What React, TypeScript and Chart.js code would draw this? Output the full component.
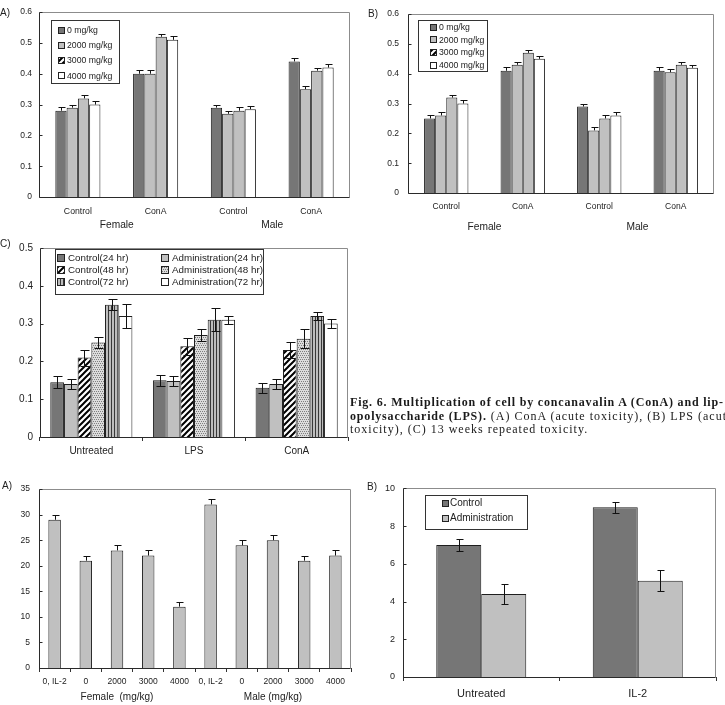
import React, { useEffect, useRef } from 'react';
import { Chart, registerables } from 'chart.js';

Chart.register(...registerables);

const SANS = '"Liberation Sans", Arial, Helvetica, sans-serif';
const SERIF = '"Liberation Serif", "Times New Roman", "DejaVu Serif", serif';

const DARK = '#767676';
const LIGHT = '#c0c0c0';
const WHITE = '#ffffff';
const EDGE = '#1e1e1e';
const TEXT = '#222222';

// ---------- Fig. 6A: ConA stimulation, acute toxicity ----------
const stimGroups = ['Control', 'ConA', 'Control', 'ConA'];
const sexGroups = ['Female', 'Male'];
const doseNames = ['0 mg/kg', '2000 mg/kg', '3000 mg/kg', '4000 mg/kg'];
const conaDose0 = [0.28, 0.40, 0.29, 0.44];
const conaDose2000 = [0.29, 0.40, 0.27, 0.35];
const conaDose3000 = [0.32, 0.52, 0.28, 0.41];
const conaDose4000 = [0.30, 0.51, 0.285, 0.42];
const conaErr0 = [0.011, 0.012, 0.008, 0.01];
const conaErr2000 = [0.008, 0.012, 0.009, 0.01];
const conaErr3000 = [0.011, 0.01, 0.011, 0.01];
const conaErr4000 = [0.012, 0.011, 0.01, 0.012];

// ---------- Fig. 6B: LPS stimulation, acute toxicity ----------
const lpsDose0 = [0.25, 0.41, 0.29, 0.41];
const lpsDose2000 = [0.26, 0.43, 0.21, 0.405];
const lpsDose3000 = [0.32, 0.47, 0.25, 0.43];
const lpsDose4000 = [0.30, 0.45, 0.26, 0.42];
const lpsErr0 = [0.01, 0.011, 0.01, 0.011];
const lpsErr2000 = [0.011, 0.011, 0.01, 0.011];
const lpsErr3000 = [0.01, 0.011, 0.01, 0.011];
const lpsErr4000 = [0.011, 0.01, 0.011, 0.01];

// ---------- Fig. 6C: 13 weeks repeated toxicity ----------
const repeatGroups = ['Untreated', 'LPS', 'ConA'];
const timeNames = [
  'Control(24 hr)', 'Administration(24 hr)',
  'Control(48 hr)', 'Administration(48 hr)',
  'Control(72 hr)', 'Administration(72 hr)',
];
const ctl24 = [0.145, 0.15, 0.13];
const adm24 = [0.14, 0.148, 0.14];
const ctl48 = [0.21, 0.24, 0.23];
const adm48 = [0.25, 0.27, 0.26];
const ctl72 = [0.35, 0.31, 0.32];
const adm72 = [0.32, 0.31, 0.30];
const ctl24Err = [0.016, 0.014, 0.013];
const adm24Err = [0.014, 0.014, 0.014];
const ctl48Err = [0.021, 0.023, 0.022];
const adm48Err = [0.015, 0.015, 0.025];
const ctl72Err = [0.014, 0.03, 0.011];
const adm72Err = [0.032, 0.011, 0.012];

// ---------- Lower A: per dose, female and male ----------
const doseTicks = ['0, IL-2', '0', '2000', '3000', '4000', '0, IL-2', '0', '2000', '3000', '4000'];
const doseSexGroups = ['Female  (mg/kg)', 'Male (mg/kg)'];
const doseActivity = [29, 21, 23, 22, 12, 32, 24, 25, 21, 22];
const doseActivityErr = [1, 1, 1, 1, 1, 1, 1, 1, 1, 1];

// ---------- Lower B: untreated vs IL-2 ----------
const il2Groups = ['Untreated', 'IL-2'];
const il2Names = ['Control', 'Administration'];
const il2Control = [7.0, 9.0];
const il2Admin = [4.4, 5.1];
const il2ControlErr = [0.33, 0.3];
const il2AdminErr = [0.53, 0.55];

// ---------- fill patterns ----------
function tile(w: number, h: number, paint: (g: CanvasRenderingContext2D) => void): CanvasPattern {
  const c = document.createElement('canvas');
  c.width = w;
  c.height = h;
  const g = c.getContext('2d')!;
  paint(g);
  return g.createPattern(c, 'repeat')!;
}

function diagonalHatch() {
  return tile(6, 6, (g) => {
    g.fillStyle = '#ffffff';
    g.fillRect(0, 0, 6, 6);
    g.strokeStyle = '#000000';
    g.lineWidth = 2;
    g.beginPath();
    g.moveTo(-1, 7); g.lineTo(7, -1);
    g.moveTo(-1, 1); g.lineTo(1, -1);
    g.moveTo(5, 7); g.lineTo(7, 5);
    g.stroke();
  });
}

function checkerMesh() {
  return tile(4, 4, (g) => {
    g.fillStyle = '#dcdcdc';
    g.fillRect(0, 0, 4, 4);
    g.fillStyle = '#7e7e7e';
    g.fillRect(0, 0, 1, 1);
    g.fillRect(2, 0, 1, 1);
    g.fillRect(1, 2, 1, 1);
    g.fillRect(3, 2, 1, 1);
  });
}

function verticalStripes() {
  return tile(3, 1, (g) => {
    g.fillStyle = '#bdbdbd';
    g.fillRect(0, 0, 3, 1);
    g.fillStyle = '#383838';
    g.fillRect(0, 0, 1, 1);
  });
}

// ---------- plugins ----------
function errorBarPlugin(capHalf: number) {
  return {
    id: 'errorBars',
    afterDatasetsDraw(chart: any) {
      const ctx = chart.ctx as CanvasRenderingContext2D;
      const yScale = chart.scales.y;
      ctx.save();
      ctx.strokeStyle = '#111111';
      ctx.lineWidth = 1;
      chart.data.datasets.forEach((ds: any, di: number) => {
        if (!ds.errors) return;
        const meta = chart.getDatasetMeta(di);
        meta.data.forEach((el: any, i: number) => {
          const v = ds.data[i];
          const e = ds.errors[i];
          const x = Math.round(el.x) + 0.5;
          const yHi = Math.round(yScale.getPixelForValue(v + e)) + 0.5;
          const yLo = ds.errorBoth ? Math.round(yScale.getPixelForValue(v - e)) + 0.5 : el.y;
          ctx.beginPath();
          ctx.moveTo(x, yHi);
          ctx.lineTo(x, yLo);
          ctx.moveTo(x - capHalf, yHi);
          ctx.lineTo(x + capHalf + 1, yHi);
          if (ds.errorBoth) {
            ctx.moveTo(x - capHalf, yLo);
            ctx.lineTo(x + capHalf + 1, yLo);
          }
          ctx.stroke();
        });
      });
      ctx.restore();
    },
  };
}

const framePlugin = {
  id: 'plotFrame',
  afterDatasetsDraw(chart: any) {
    const ctx = chart.ctx as CanvasRenderingContext2D;
    const { left, top, right, bottom } = chart.chartArea;
    const L = Math.round(left) + 0.5;
    const T = Math.round(top) + 0.5;
    const R = Math.round(right) - 0.5;
    const B = Math.round(bottom) + 0.5;
    ctx.save();
    ctx.lineWidth = 1;
    ctx.strokeStyle = '#8c8c8c';
    ctx.beginPath();
    ctx.moveTo(L, T);
    ctx.lineTo(R, T);
    ctx.lineTo(R, B);
    ctx.stroke();
    ctx.strokeStyle = '#2a2a2a';
    ctx.beginPath();
    ctx.moveTo(L, T);
    ctx.lineTo(L, B);
    ctx.lineTo(R, B);
    ctx.stroke();
    const yScale = chart.scales.y;
    ctx.beginPath();
    yScale.ticks.forEach((t: any) => {
      const py = Math.round(yScale.getPixelForValue(t.value)) + 0.5;
      ctx.moveTo(L, py);
      ctx.lineTo(L + 3, py);
    });
    ctx.stroke();
    ctx.restore();
  },
};

interface LegendSpec {
  x: number; y: number; w: number; h: number;
  cols: number; colW: number;
  firstRow: number; rowH: number;
  swatchX: number; swatch: number; textX: number;
  font: number;
}

function boxLegendPlugin(spec?: LegendSpec) {
  return {
    id: 'boxLegend',
    afterDraw(chart: any) {
      if (!spec) return;
      const ctx = chart.ctx as CanvasRenderingContext2D;
      ctx.save();
      ctx.fillStyle = '#ffffff';
      ctx.fillRect(spec.x, spec.y, spec.w, spec.h);
      ctx.strokeStyle = '#333333';
      ctx.lineWidth = 1;
      ctx.strokeRect(spec.x + 0.5, spec.y + 0.5, spec.w, spec.h);
      ctx.beginPath();
      ctx.rect(spec.x, spec.y, spec.w, spec.h);
      ctx.clip();
      ctx.font = `${spec.font}px ${SANS}`;
      ctx.textBaseline = 'middle';
      chart.data.datasets.forEach((ds: any, i: number) => {
        const col = i % spec.cols;
        const row = Math.floor(i / spec.cols);
        const cy = spec.y + spec.firstRow + row * spec.rowH;
        const sx = spec.x + spec.swatchX + col * spec.colW;
        const sy = Math.round(cy - spec.swatch / 2);
        ctx.fillStyle = ds.legendFill || ds.backgroundColor;
        ctx.fillRect(sx, sy, spec.swatch, spec.swatch);
        ctx.strokeStyle = '#222222';
        ctx.strokeRect(sx + 0.5, sy + 0.5, spec.swatch - 1, spec.swatch - 1);
        ctx.fillStyle = TEXT;
        ctx.fillText(ds.label, spec.x + spec.textX + col * spec.colW, cy + 0.5);
      });
      ctx.restore();
    },
  };
}

// ---------- chart config ----------
interface PanelSpec {
  w: number; h: number;
  area: [number, number, number, number];
  labels: string[];
  groups?: string[];
  datasets: any[];
  yMax: number; yStep: number; yDigits: number;
  yFont: number; yPad: number;
  xFont: number; xPad: number; xHeight: number; xTicks: boolean;
  groupFont?: number; groupPad?: number;
  catPct: number;
  cap: number;
  legend?: LegendSpec;
}

function buildConfig(s: PanelSpec): any {
  const [l, t, r, b] = s.area;
  const scales: any = {
    x: {
      type: 'category',
      axis: 'x',
      position: 'bottom',
      weight: 0,
      offset: true,
      grid: s.xTicks
        ? { display: true, drawOnChartArea: false, drawTicks: true, tickLength: 4, color: '#333333', lineWidth: 1, offset: true }
        : { display: false, drawTicks: false },
      border: { display: false },
      ticks: {
        color: TEXT,
        font: { family: SANS, size: s.xFont },
        padding: s.xPad,
        maxRotation: 0,
        minRotation: 0,
        autoSkip: false,
      },
      afterFit: (sc: any) => { sc.height = s.xHeight; },
    },
    y: {
      type: 'linear',
      position: 'left',
      min: 0,
      max: s.yMax,
      grid: { display: false, drawTicks: false },
      border: { display: false },
      ticks: {
        stepSize: s.yStep,
        color: TEXT,
        font: { family: SANS, size: s.yFont },
        padding: s.yPad,
        callback: (v: any) => (Number(v) === 0 ? '0' : Number(v).toFixed(s.yDigits)),
      },
      afterFit: (sc: any) => { sc.width = l; },
    },
  };
  if (s.groups) {
    scales.x2 = {
      type: 'category',
      axis: 'x',
      position: 'bottom',
      weight: 1,
      offset: true,
      labels: s.groups,
      grid: { display: false, drawTicks: false },
      border: { display: false },
      ticks: {
        color: TEXT,
        font: { family: SANS, size: s.groupFont },
        padding: s.groupPad,
        maxRotation: 0,
        minRotation: 0,
        autoSkip: false,
      },
      afterFit: (sc: any) => { sc.height = s.h - b - s.xHeight; },
    };
  }
  return {
    type: 'bar',
    data: {
      labels: s.labels,
      datasets: s.datasets.map((d) => ({
        borderColor: EDGE,
        borderWidth: 1,
        categoryPercentage: s.catPct,
        barPercentage: 1,
        ...d,
      })),
    },
    options: {
      responsive: false,
      maintainAspectRatio: false,
      animation: false,
      devicePixelRatio: 1,
      events: [],
      layout: { padding: { left: 0, top: t, right: s.w - r, bottom: 0 } },
      plugins: { legend: { display: false }, tooltip: { enabled: false } },
      scales,
    },
    plugins: [errorBarPlugin(s.cap), framePlugin, boxLegendPlugin(s.legend)],
  };
}

function doseDatasets(v0: number[], v2: number[], v3: number[], v4: number[], e0: number[], e2: number[], e3: number[], e4: number[]) {
  return [
    { label: doseNames[0], data: v0, errors: e0, backgroundColor: DARK },
    { label: doseNames[1], data: v2, errors: e2, backgroundColor: LIGHT },
    { label: doseNames[2], data: v3, errors: e3, backgroundColor: LIGHT, legendFill: diagonalHatch() },
    { label: doseNames[3], data: v4, errors: e4, backgroundColor: WHITE },
  ];
}

const panelConA = (): PanelSpec => ({
  w: 362, h: 235,
  area: [39, 12, 350, 197],
  labels: stimGroups,
  groups: sexGroups,
  datasets: doseDatasets(conaDose0, conaDose2000, conaDose3000, conaDose4000, conaErr0, conaErr2000, conaErr3000, conaErr4000),
  yMax: 0.6, yStep: 0.1, yDigits: 1, yFont: 8.5, yPad: 7,
  xFont: 8.7, xPad: 9, xHeight: 20, xTicks: false,
  groupFont: 10.2, groupPad: 2,
  catPct: 0.58, cap: 3,
  legend: { x: 51, y: 20, w: 68, h: 63, cols: 1, colW: 0, firstRow: 10, rowH: 15.3, swatchX: 7, swatch: 7, textX: 16, font: 8.7 },
});

const panelLPS = (): PanelSpec => ({
  w: 363, h: 235,
  area: [46, 13, 352, 193],
  labels: stimGroups,
  groups: sexGroups,
  datasets: doseDatasets(lpsDose0, lpsDose2000, lpsDose3000, lpsDose4000, lpsErr0, lpsErr2000, lpsErr3000, lpsErr4000),
  yMax: 0.6, yStep: 0.1, yDigits: 1, yFont: 8.5, yPad: 9,
  xFont: 8.5, xPad: 9, xHeight: 20, xTicks: false,
  groupFont: 10.2, groupPad: 8,
  catPct: 0.58, cap: 3,
  legend: { x: 56, y: 20, w: 69, h: 51, cols: 1, colW: 0, firstRow: 7, rowH: 12.7, swatchX: 12, swatch: 7, textX: 21, font: 8.7 },
});

const panelRepeat = (): PanelSpec => ({
  w: 362, h: 235,
  area: [40, 10, 348, 202],
  labels: repeatGroups,
  datasets: [
    { label: timeNames[0], data: ctl24, errors: ctl24Err, errorBoth: true, backgroundColor: DARK },
    { label: timeNames[1], data: adm24, errors: adm24Err, errorBoth: true, backgroundColor: LIGHT },
    { label: timeNames[2], data: ctl48, errors: ctl48Err, errorBoth: true, backgroundColor: diagonalHatch() },
    { label: timeNames[3], data: adm48, errors: adm48Err, errorBoth: true, backgroundColor: checkerMesh() },
    { label: timeNames[4], data: ctl72, errors: ctl72Err, errorBoth: true, backgroundColor: verticalStripes() },
    { label: timeNames[5], data: adm72, errors: adm72Err, errorBoth: true, backgroundColor: WHITE },
  ],
  yMax: 0.5, yStep: 0.1, yDigits: 1, yFont: 10, yPad: 7,
  xFont: 10, xPad: 4, xHeight: 33, xTicks: true,
  catPct: 0.8, cap: 4,
  legend: { x: 55, y: 14, w: 208, h: 45, cols: 2, colW: 104, firstRow: 9, rowH: 12, swatchX: 2, swatch: 8, textX: 13, font: 9.8 },
});

const panelDose = (): PanelSpec => ({
  w: 362, h: 230,
  area: [39, 12, 351, 193],
  labels: doseTicks,
  groups: doseSexGroups,
  datasets: [
    { label: 'Activity', data: doseActivity, errors: doseActivityErr, backgroundColor: LIGHT },
  ],
  yMax: 35, yStep: 5, yDigits: 0, yFont: 8.5, yPad: 9,
  xFont: 8.5, xPad: 5, xHeight: 20, xTicks: true,
  groupFont: 10, groupPad: 3,
  catPct: 0.4, cap: 3,
});

const panelIL2 = (): PanelSpec => ({
  w: 363, h: 230,
  area: [41, 12, 354, 202],
  labels: il2Groups,
  datasets: [
    { label: il2Names[0], data: il2Control, errors: il2ControlErr, errorBoth: true, backgroundColor: DARK },
    { label: il2Names[1], data: il2Admin, errors: il2AdminErr, errorBoth: true, backgroundColor: LIGHT },
  ],
  yMax: 10, yStep: 2, yDigits: 0, yFont: 9, yPad: 8,
  xFont: 11, xPad: 6, xHeight: 28, xTicks: true,
  catPct: 0.575, cap: 3,
  legend: { x: 63, y: 20, w: 102, h: 34, cols: 1, colW: 0, firstRow: 8, rowH: 15, swatchX: 17, swatch: 7, textX: 25, font: 10 },
});

function ChartPanel({ x, y, spec }: { x: number; y: number; spec: () => PanelSpec }) {
  const ref = useRef<HTMLCanvasElement>(null);
  const s = spec();
  useEffect(() => {
    const chart = new Chart(ref.current!, buildConfig(spec()));
    return () => chart.destroy();
  }, []);
  return (
    <div style={{ position: 'absolute', left: x, top: y, width: s.w, height: s.h }}>
      <canvas ref={ref} width={s.w} height={s.h} style={{ display: 'block', width: s.w, height: s.h }} />
    </div>
  );
}

function PanelTag({ x, y, text }: { x: number; y: number; text: string }) {
  return (
    <div style={{ position: 'absolute', left: x, top: y, font: `10px ${SANS}`, lineHeight: '10px', color: TEXT }}>
      {text}
    </div>
  );
}

const captionLine: React.CSSProperties = {
  whiteSpace: 'nowrap',
  height: 13.5,
  lineHeight: '13.5px',
};

const boldRun: React.CSSProperties = { fontWeight: 700, letterSpacing: 0.82 };

export default function App() {
  return (
    <div style={{ position: 'absolute', left: 0, top: 0, width: 725, height: 705, overflow: 'hidden', background: '#ffffff' }}>
      <ChartPanel x={0} y={0} spec={panelConA} />
      <ChartPanel x={362} y={0} spec={panelLPS} />
      <ChartPanel x={0} y={235} spec={panelRepeat} />
      <ChartPanel x={0} y={475} spec={panelDose} />
      <ChartPanel x={362} y={475} spec={panelIL2} />
      <PanelTag x={0} y={8} text="A)" />
      <PanelTag x={368} y={9} text="B)" />
      <PanelTag x={0} y={239} text="C)" />
      <PanelTag x={2} y={481} text="A)" />
      <PanelTag x={367} y={482} text="B)" />
      <div
        style={{
          position: 'absolute', left: 350, top: 396, width: 375, overflow: 'hidden',
          fontFamily: SERIF, fontSize: 12, letterSpacing: 1.0, color: '#1a1a1a',
        }}
      >
        <div style={captionLine}>
          <span style={boldRun}>Fig. 6. Multiplication of cell by concanavalin A (ConA) and lip-</span>
        </div>
        <div style={captionLine}>
          <span style={boldRun}>opolysaccharide (LPS).</span> (A) ConA (acute toxicity), (B) LPS (acute
        </div>
        <div style={captionLine}>toxicity), (C) 13 weeks repeated toxicity.</div>
      </div>
    </div>
  );
}
